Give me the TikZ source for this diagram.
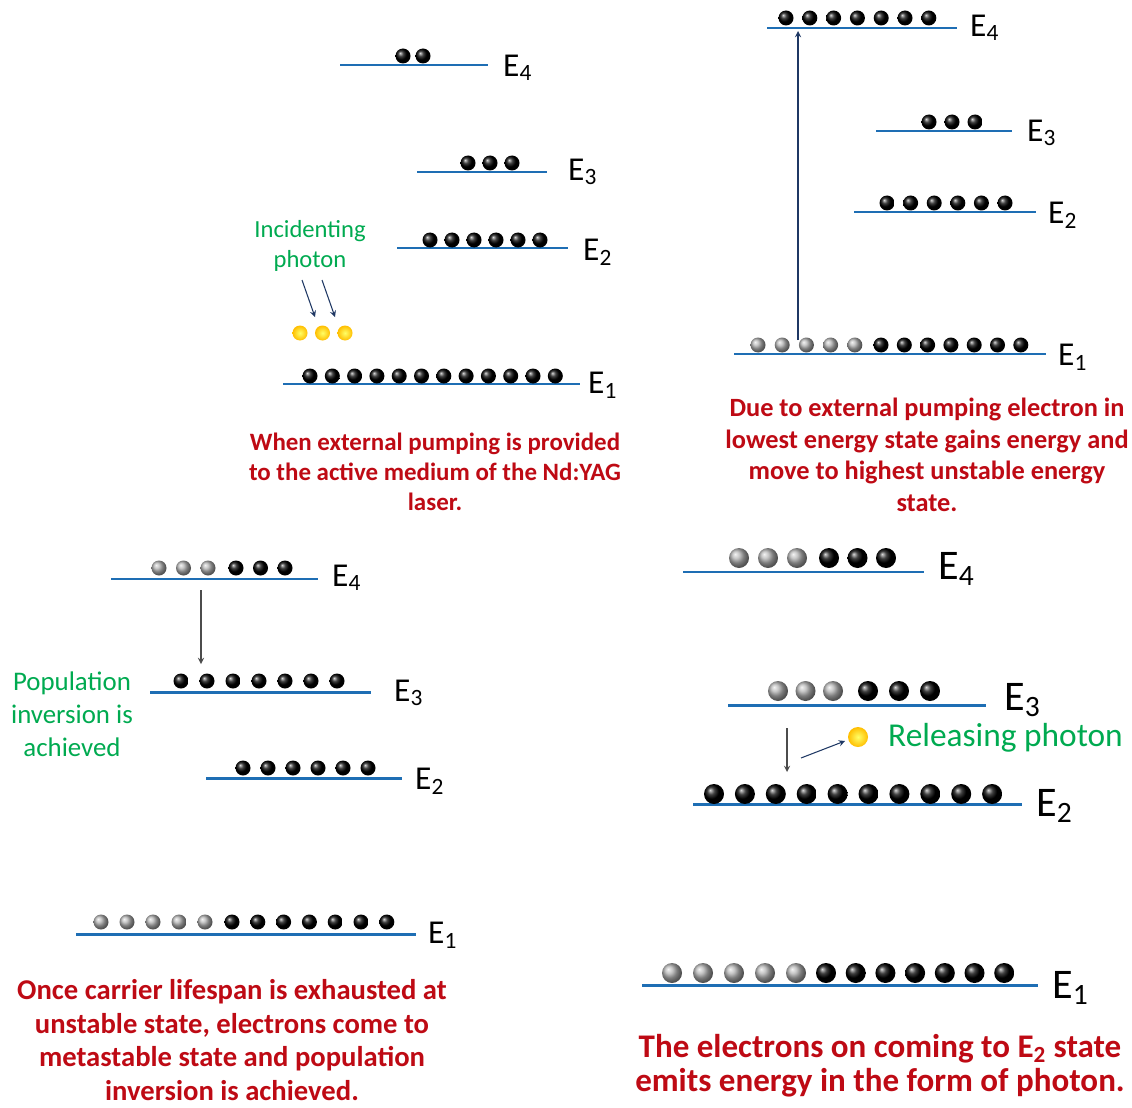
\documentclass[tikz,border=0pt]{standalone}
\usepackage{fontspec}
\setmainfont{Carlito}
\usepackage{tikz}
\usetikzlibrary{shadings}

\definecolor{levelblue}{RGB}{30,110,180}
\definecolor{textred}{RGB}{190,10,20}
\definecolor{textgreen}{RGB}{0,170,80}
\definecolor{arrowblue}{RGB}{31,56,100}
\definecolor{photon}{RGB}{255,190,0}

\begin{document}
\begin{tikzpicture}[x=0.02cm,y=-0.02cm]
            \tikzstyle{every node}=[font=\fontsize{13}{16}\selectfont]
            \tikzstyle{level}=[draw=levelblue,line width=1.7pt]
            \tikzstyle{elabel}=[anchor=west,font=\fontsize{19}{20}\selectfont]
            \tikzstyle{biglabel}=[anchor=west,font=\fontsize{24}{26}\selectfont]
            \tikzstyle{note}=[text=textred,align=center,inner sep=0pt]
            \tikzstyle{greennote}=[text=textgreen,align=center]
            \tikzstyle{pump}=[->,>=stealth,draw=arrowblue,line width=0.6pt]
            \tikzstyle{decay}=[->,>=stealth,draw=black!70,line width=0.6pt]
            \tikzstyle{glow}=[inner color=yellow!60!white,outer color=photon]
            \useasboundingbox (0,0) rectangle (1132,1108);

            % panel 1: pumping starts
            \draw[level] (340,65) -- (488,65);
            \draw[level] (417,172) -- (547,172);
            \draw[level] (397,248) -- (568,248);
            \draw[level] (283,384) -- (580,384);
            \foreach \i in {0,1} \shade[ball color=black] (403+\i*20,56) circle (7.5);
            \foreach \i in {0,...,2} \shade[ball color=black] (468+\i*22,163) circle (7.5);
            \foreach \i in {0,...,5} \shade[ball color=black] (430+\i*22,240) circle (7.5);
            \foreach \i in {0,...,11} \shade[ball color=black] (310+\i*22.3,376) circle (7.5);
            \foreach \i in {0,...,2} \shade[glow] (300+\i*22.5,333) circle (7.5);
            \node[elabel] (a4) at (497,68) {E\textsubscript{4}};
            \node[elabel] (a3) at (562,172) {E\textsubscript{3}};
            \node[elabel] (a2) at (577,252) {E\textsubscript{2}};
            \node[elabel] (a1) at (582,385) {E\textsubscript{1}};
            \node[greennote,font=\fontsize{14}{17}\selectfont] (incid) at (310,246) {Incidenting\\photon};
            \coordinate (ph1s) at (302,280);
            \coordinate (ph1e) at (315,317);
            \coordinate (ph2s) at (322,280);
            \coordinate (ph2e) at (335,317);
            \draw[pump] (ph1s) -- (ph1e);
            \draw[pump] (ph2s) -- (ph2e);
            \node[note,font=\bfseries\fontsize{14.2}{17}\selectfont] (notea) at (435,472) {When external pumping is provided\\to the active medium of the Nd:YAG\\laser.};

            % panel 2: electrons reach E4
            \draw[level] (767,28) -- (957,28);
            \draw[level] (876,131) -- (1012,131);
            \draw[level] (854,212) -- (1036,212);
            \draw[level] (734,354) -- (1046,354);
            \foreach \i in {0,...,6} \shade[ball color=black] (786+\i*23.8,18) circle (7.5);
            \foreach \i in {0,...,2} \shade[ball color=black] (929+\i*23,122) circle (7.5);
            \foreach \i in {0,...,5} \shade[ball color=black] (887+\i*23.6,203) circle (7.5);
            \foreach \i in {0,...,4} \shade[ball color=black!30] (758+\i*24.2,345) circle (7.5);
            \foreach \i in {0,...,6} \shade[ball color=black] (881+\i*23.3,345) circle (7.5);
            \node[elabel] (b4) at (964,28) {E\textsubscript{4}};
            \node[elabel] (b3) at (1021,133) {E\textsubscript{3}};
            \node[elabel] (b2) at (1042,215) {E\textsubscript{2}};
            \node[elabel] (b1) at (1052,357) {E\textsubscript{1}};
            \coordinate (up1) at (798,340);
            \coordinate (up4) at (798,31);
            \draw[pump] (up1) -- (up4);
            \node[note,font=\bfseries\fontsize{15}{18}\selectfont] (noteb) at (927,455) {Due to external pumping electron in\\lowest energy state gains energy and\\move to highest unstable energy\\state.};

            % panel 3: population inversion
            \draw[level] (111,579) -- (318,579);
            \draw[level] (150,692) -- (371,692);
            \draw[level] (206,778) -- (402,778);
            \draw[level] (76,934) -- (416,934);
            \foreach \i in {0,...,2} \shade[ball color=black!30] (159+\i*24.5,568) circle (7.5);
            \foreach \i in {0,...,2} \shade[ball color=black] (236+\i*24.5,568) circle (7.5);
            \foreach \i in {0,...,6} \shade[ball color=black] (181+\i*26,681) circle (7.5);
            \foreach \i in {0,...,5} \shade[ball color=black] (243+\i*25,768) circle (7.5);
            \foreach \i in {0,...,4} \shade[ball color=black!30] (101+\i*26,922) circle (7.5);
            \foreach \i in {0,...,6} \shade[ball color=black] (232+\i*25.8,922) circle (7.5);
            \node[elabel] (c4) at (326,578) {E\textsubscript{4}};
            \node[elabel] (c3) at (388,693) {E\textsubscript{3}};
            \node[elabel] (c2) at (409,781) {E\textsubscript{2}};
            \node[elabel] (c1) at (422,935) {E\textsubscript{1}};
            \coordinate (down4) at (201,590);
            \coordinate (down3) at (201,664);
            \draw[decay] (down4) -- (down3);
            \node[greennote,font=\fontsize{15.3}{18.8}\selectfont] (popinv) at (72,714) {Population\\inversion is\\achieved};
            \node[note,font=\bfseries\fontsize{16.3}{19.2}\selectfont] (notec) at (232,1040) {Once carrier lifespan is exhausted at\\unstable state, electrons come to\\metastable state and population\\inversion is achieved.};

            % panel 4: photon released
            \draw[level] (683,572) -- (924,572);
            \draw[level] (728,705) -- (986,705);
            \draw[level] (693,804) -- (1022,804);
            \draw[level] (642,985) -- (1038,985);
            \foreach \i in {0,...,2} \shade[ball color=black!30] (739+\i*29,558) circle (10);
            \foreach \i in {0,...,2} \shade[ball color=black] (829+\i*28.5,558) circle (10);
            \foreach \i in {0,...,2} \shade[ball color=black!30] (778+\i*27.5,691) circle (10);
            \foreach \i in {0,...,2} \shade[ball color=black] (868+\i*31,691) circle (10);
            \foreach \i in {0,...,9} \shade[ball color=black] (714+\i*30.9,794) circle (10);
            \foreach \i in {0,...,4} \shade[ball color=black!30] (672+\i*31,973) circle (10);
            \foreach \i in {0,...,6} \shade[ball color=black] (826+\i*29.7,973) circle (10);
            \shade[glow] (858,737) circle (10);
            \node[biglabel] (d4) at (932,569) {E\textsubscript{4}};
            \node[biglabel] (d3) at (998,700) {E\textsubscript{3}};
            \node[biglabel] (d2) at (1030,806) {E\textsubscript{2}};
            \node[biglabel] (d1) at (1046,988) {E\textsubscript{1}};
            \coordinate (down33) at (787,728);
            \coordinate (down22) at (787,772);
            \draw[decay] (down33) -- (down22);
            \coordinate (emits) at (801,758);
            \coordinate (emite) at (845,741);
            \draw[pump] (emits) -- (emite);
            \node[anchor=west,text=textgreen,font=\fontsize{19}{22}\selectfont] (release) at (882,738) {Releasing photon};
            \node[note,font=\bfseries\fontsize{18.8}{19.3}\selectfont] (noted) at (880,1066) {The electrons on coming to E\textsubscript{2} state\\emits energy in the form of photon.};
        \end{tikzpicture}
\end{document}
